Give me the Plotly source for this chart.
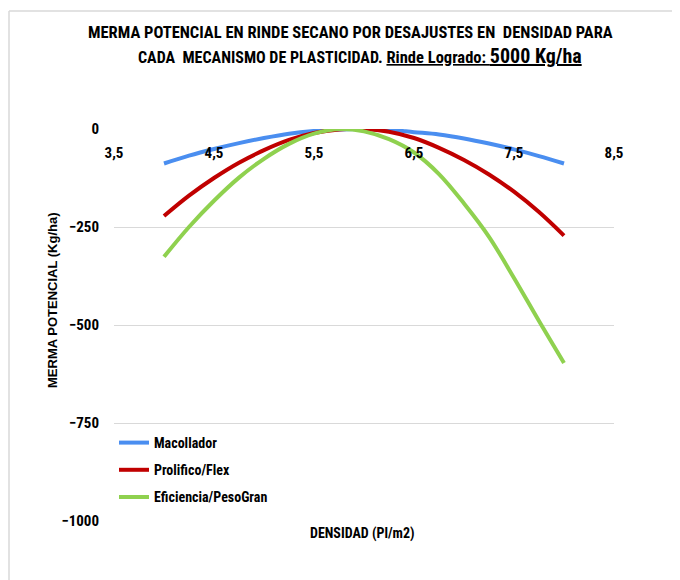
import plotly.graph_objects as go

densidad = [4.0, 4.25, 4.5, 4.75, 5.0, 5.25, 5.5, 5.75, 6.0, 6.25, 6.5, 6.75, 7.0, 7.25, 7.5, 7.75, 8.0]
macollador = [-88, -68, -51, -36, -23, -12, -5, -1, 0, -2, -8, -14, -24, -37, -52, -69, -88]
prolifico = [-222, -170, -125, -86, -54, -28, -10, -1, 0, -7, -23, -48, -79, -116, -160, -212, -272]
eficiencia = [-326, -250, -183, -124, -76, -38, -12, 0, -6, -26, -60, -115, -190, -275, -380, -490, -597]

x_ticks = [3.5, 4.5, 5.5, 6.5, 7.5, 8.5]
x_ticktext = ["3,5", "4,5", "5,5", "6,5", "7,5", "8,5"]
y_ticks = [0, -250, -500, -750, -1000]

FONT = "Liberation Sans Narrow, Roboto Condensed, Arial Narrow, DejaVu Sans Condensed, Roboto, sans-serif"

# plot area in page pixels (page is offset by body margin of 8px)
PX0, PW = 114, 500
PY1, PH = 521, 392


def px(xp):
    return (xp - PX0) / PW


def py(yp):
    return (PY1 - yp) / PH


fig = go.Figure()
series = [
    ("Macollador", macollador, "#4a8ef0"),
    ("Prolifico/Flex", prolifico, "#c00000"),
    ("Eficiencia/PesoGran", eficiencia, "#8fd14f"),
]
for name, vals, col in series:
    fig.add_trace(go.Scatter(
        x=densidad, y=vals, mode="lines", name=name, legendgroup=name,
        line=dict(color=col, width=4, shape="spline", smoothing=1.0),
    ))

fig.update_layout(
    width=680, height=580,
    paper_bgcolor="white", plot_bgcolor="white",
    margin=dict(l=106, r=74, t=121, b=67),
    showlegend=True,
    legend=dict(
        x=0.0, y=py(427), xanchor="left", yanchor="top",
        bgcolor="rgba(0,0,0,0)",
        font=dict(family=FONT, size=14, color="#000000", weight="bold"),
        itemwidth=30, tracegroupgap=6,
    ),
    xaxis=dict(
        range=[3.5, 8.5], tickvals=x_ticks, ticktext=x_ticktext,
        anchor="free", position=1, side="bottom",
        showgrid=False, zeroline=False, showline=False,
        ticks="outside", ticklen=10, tickcolor="rgba(0,0,0,0)",
        tickfont=dict(family=FONT, size=15, color="#000000", weight="bold"),
    ),
    yaxis=dict(
        range=[-1000, 0], tickvals=y_ticks,
        showgrid=True, gridcolor="#d9d9d9", gridwidth=1,
        zeroline=False, showline=False,
        ticks="", ticklabelstandoff=14,
        tickfont=dict(family=FONT, size=15, color="#000000", weight="bold"),
    ),
    annotations=[
        dict(text="<b>MERMA POTENCIAL EN RINDE SECANO POR DESAJUSTES EN  DENSIDAD PARA</b>",
             xref="paper", yref="paper", x=px(350), y=py(32), xanchor="center", yanchor="middle",
             showarrow=False, font=dict(family=FONT, size=16.5, color="#000000")),
        dict(text="<b><span style='font-size:16px'>CADA  MECANISMO DE PLASTICIDAD.</span> "
                  "<u>Rinde Logrado: <span style='font-size:20px'>5000 Kg/ha</span></u></b>",
             xref="paper", yref="paper", x=px(360), y=py(56), xanchor="center", yanchor="middle",
             showarrow=False, font=dict(family=FONT, size=16.5, color="#000000")),
        dict(text="<b>MERMA POTENCIAL (Kg/ha)</b>", xref="paper", yref="paper",
             x=px(52), y=py(300), xanchor="center", yanchor="middle", textangle=-90,
             showarrow=False,
             font=dict(family="Liberation Sans, Arial, sans-serif", size=13, color="#000000")),
        dict(text="<b>DENSIDAD (Pl/m2)</b>", xref="paper", yref="paper",
             x=px(362), y=py(533), xanchor="center", yanchor="middle", showarrow=False,
             font=dict(family=FONT, size=14, color="#000000")),
    ],
    shapes=[
        dict(type="line", xref="paper", yref="paper", x0=px(9), x1=px(700), y0=py(11), y1=py(11),
             line=dict(color="#d9d9d9", width=1.5)),
        dict(type="line", xref="paper", yref="paper", x0=px(9), x1=px(9), y0=py(11), y1=py(600),
             line=dict(color="#d9d9d9", width=1.5)),
    ],
)

fig.write_html("out.html")
